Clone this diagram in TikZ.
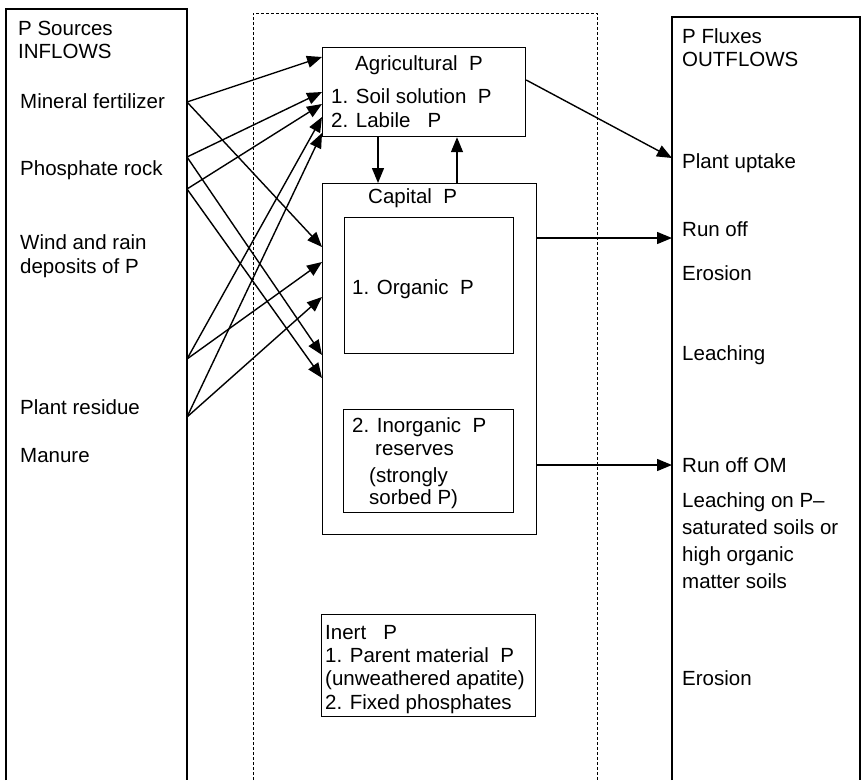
\documentclass[tikz,border=0pt]{standalone}
\usepackage{fontspec}
\setmainfont{Liberation Sans}
\usetikzlibrary{arrows.meta}
\begin{document}
\begin{tikzpicture}[x=1pt,y=-1pt,
  box/.style={draw, line width=1.2pt, inner sep=0pt, anchor=north west},
  frame/.style={draw, line width=1.2pt},
  dashframe/.style={draw, line width=0.9pt, dash pattern=on 3pt off 2pt},
  txt/.style={anchor=base west, inner sep=0pt, font=\fontsize{20.5}{23.3}\selectfont},
  flow/.style={-{Triangle[length=15pt,width=12pt]}, line width=1.4pt}]
\useasboundingbox (0,0) rectangle (865,780);

% outer frames, open at the bottom
\draw[frame] (6,780) -- (6,9) -- (187,9) -- (187,780);
\draw[dashframe] (253,780) -- (253,13) -- (597,13) -- (597,780);
\draw[frame] (672,780) -- (672,17) -- (860,17) -- (860,780);

% inflows
\node[txt] (psrc1) at (18,35) {P Sources};
\node[txt] (psrc2) at (18,58) {INFLOWS};
\node[txt] (mineral) at (20,108) {Mineral fertilizer};
\node[txt] (rock) at (20,175) {Phosphate rock};
\node[txt] (wind1) at (20,249) {Wind and rain};
\node[txt] (wind2) at (20,273) {deposits of P};
\node[txt] (residue) at (20,414) {Plant residue};
\node[txt] (manure) at (20,462) {Manure};

\coordinate (sM) at (187,102);
\coordinate (sP1) at (187,157);
\coordinate (sP2) at (187,189);
\coordinate (sR1) at (187,359);
\coordinate (sR2) at (187,417);

% soil pools
\node[box, minimum width=203pt, minimum height=89pt] (agri) at (322,47) {};
\node[txt] (agrit) at (355,70) {Agricultural\ \ P};
\node[txt] (agril1) at (331,103) {1. Soil solution\ \ P};
\node[txt] (agril2) at (331,127) {2. Labile\ \ \ P};

\node[box, minimum width=214pt, minimum height=351pt] (cap) at (322,183) {};
\node[txt] (capt) at (368,203) {Capital\ \ P};
\node[box, minimum width=169pt, minimum height=136pt] (org) at (344,217) {};
\node[txt] (orgt) at (352,294) {1. Organic\ \ P};
\node[box, minimum width=170pt, minimum height=103pt] (inorg) at (343,409) {};
\node[txt] (inorgt) at (352,432) {2. Inorganic\ \ P};
\node[txt] (inorgr) at (375,455) {reserves};
\node[txt] (inorgs1) at (369,482) {(strongly};
\node[txt] (inorgs2) at (369,504) {sorbed P)};

\node[box, minimum width=214pt, minimum height=102pt] (inert) at (321,614) {};
\node[txt] (inert1) at (325,639) {Inert\ \ \ P};
\node[txt] (inert2) at (325,662) {1. Parent material\ \ P};
\node[txt] (inert3) at (325,685) {(unweathered apatite)};
\node[txt] (inert4) at (325,709) {2. Fixed phosphates};

% outflows
\node[txt] (pflux1) at (682,43) {P Fluxes};
\node[txt] (pflux2) at (682,66) {OUTFLOWS};
\node[txt] (uptake) at (682,168) {Plant uptake};
\node[txt] (runoff) at (682,236) {Run off};
\node[txt] (eros1) at (682,280) {Erosion};
\node[txt] (leach) at (682,360) {Leaching};
\node[txt] (runom) at (682,472) {Run off OM};
\node[txt] (leachsat1) at (682,507) {Leaching on P--};
\node[txt] (leachsat2) at (682,534) {saturated soils or};
\node[txt] (leachsat3) at (682,561) {high organic};
\node[txt] (leachsat4) at (682,588) {matter soils};
\node[txt] (eros2) at (682,685) {Erosion};

\coordinate (tUp) at (672,158);
\coordinate (tRun) at (672,238);
\coordinate (tRunOM) at (672,465);

% inflow arrows
\draw[flow] (sM) -- ([yshift=-10pt]agri.north west);
\draw[flow] (sM) -- ([yshift=-64pt]cap.north west);
\draw[flow] (sP1) -- ([yshift=-45pt]agri.north west);
\draw[flow] (sP1) -- ([yshift=-172pt]cap.north west);
\draw[flow] (sP2) -- ([yshift=-57pt]agri.north west);
\draw[flow] (sP2) -- ([yshift=-195pt]cap.north west);
\draw[flow] (sR1) -- ([yshift=-70pt]agri.north west);
\draw[flow] (sR1) -- ([yshift=-79pt]cap.north west);
\draw[flow] (sR2) -- ([yshift=-86pt]agri.north west);
\draw[flow] (sR2) -- ([yshift=-114pt]cap.north west);

% exchange between pools
\draw[flow] ([xshift=56pt]agri.south west) -- ([xshift=56pt]cap.north west);
\draw[flow] ([xshift=135pt]cap.north west) -- ([xshift=135pt]agri.south west);

% outflow arrows
\draw[flow] ([yshift=-33pt]agri.north east) -- (tUp);
\draw[flow] (cap.north east |- tRun) -- (tRun);
\draw[flow] (cap.north east |- tRunOM) -- (tRunOM);
\end{tikzpicture}
\end{document}
